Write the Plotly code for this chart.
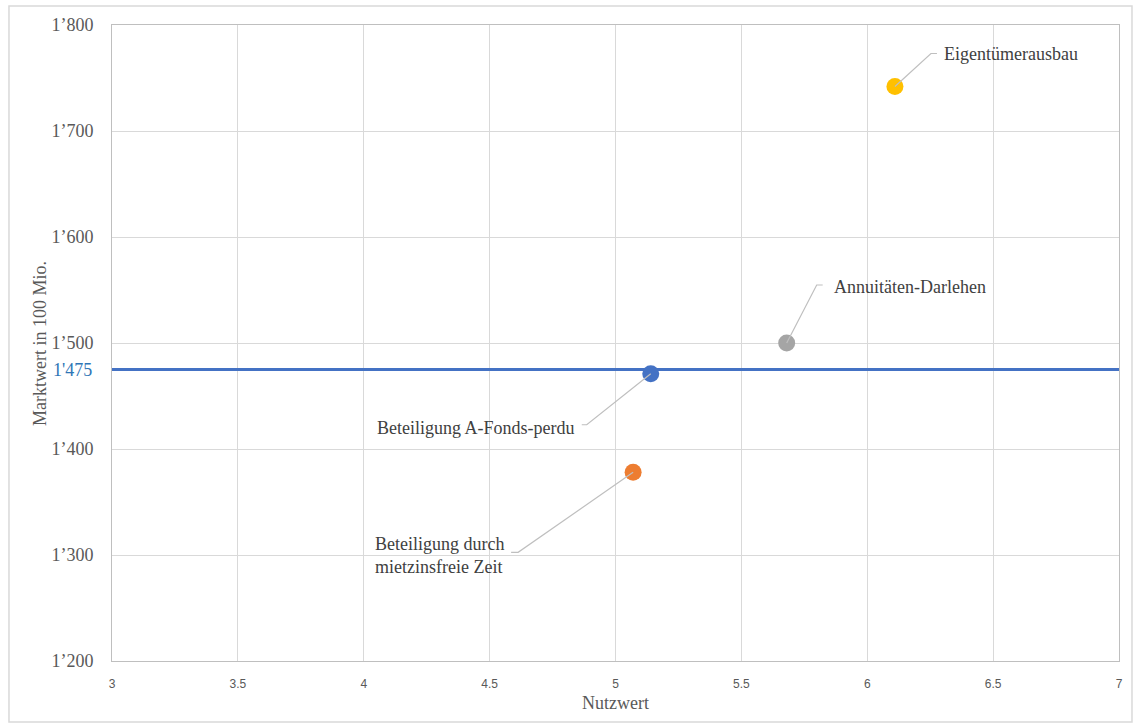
import plotly.graph_objects as go

# Variants: Nutzwert (x) vs. Marktwert in 100 Mio. (y)
names = ["Eigentümerausbau", "Annuitäten-Darlehen", "Beteiligung A-Fonds-perdu",
         "Beteiligung durch<br>mietzinsfreie Zeit"]
nutzwert = [6.11, 5.68, 5.14, 5.07]
marktwert = [1742, 1500, 1471, 1378]
colors = ["#FFC000", "#A5A5A5", "#4472C4", "#ED7D31"]

# Reference level
ref_value = 1475
ref_label = "1'475"

# Axes
x_range = [3, 7]
x_tick_vals = [3, 3.5, 4, 4.5, 5, 5.5, 6, 6.5, 7]
x_tick_text = ["3", "3.5", "4", "4.5", "5", "5.5", "6", "6.5", "7"]
y_range = [1200, 1800]
y_tick_vals = [1200, 1300, 1400, 1500, 1600, 1700, 1800]
y_tick_text = ["1’200", "1’300", "1’400", "1’500", "1’600", "1’700", "1’800"]

# Callout geometry (pixel offsets from each point): kink, end of leader, text anchor
callouts = [
    dict(path="M0,0 L36,33 L42,33", tx=47, ty=32, anchor="left"),
    dict(path="M0,0 L30,58 L36,58", tx=45, ty=56, anchor="left"),
    dict(path="M0,0 L-64,-51 L-69,-51", tx=-75, ty=-54, anchor="right"),
    dict(path="M0,0 L-115,-80 L-122,-80", tx=-127, ty=-83, anchor="right"),
]

SERIF = "Liberation Serif, Times New Roman, serif"
TEXT = "#595959"
LABEL = "#404040"

fig = go.Figure()

fig.add_trace(go.Scatter(
    x=x_range, y=[ref_value, ref_value], mode="lines",
    line=dict(color="#4472C4", width=3), hoverinfo="skip", showlegend=False,
))

for xv, yv, c, n in zip(nutzwert, marktwert, colors, names):
    fig.add_trace(go.Scatter(
        x=[xv], y=[yv], mode="markers", name=n.replace("<br>", " "),
        marker=dict(color=c, size=17, line=dict(width=0)), showlegend=False,
    ))

annotations = []
shapes = []
for xv, yv, n, co in zip(nutzwert, marktwert, names, callouts):
    shapes.append(dict(
        type="path", xref="x", yref="y", xsizemode="pixel", ysizemode="pixel",
        xanchor=xv, yanchor=yv, path=co["path"],
        line=dict(color="#BFBFBF", width=1.2), layer="above",
    ))
    annotations.append(dict(
        x=xv, y=yv, xref="x", yref="y", text=n, showarrow=False,
        xanchor=co["anchor"], yanchor="middle", align="left",
        xshift=co["tx"], yshift=co["ty"],
        font=dict(family=SERIF, size=18, color=LABEL),
    ))

# Reference label next to the axis
annotations.append(dict(
    x=0, y=ref_value, xref="paper", yref="y", text=ref_label, showarrow=False,
    xanchor="right", yanchor="middle", xshift=-18,
    font=dict(family=SERIF, size=18, color="#2E75B6"),
))

# Axis titles
annotations.append(dict(
    x=-0.0715, y=0.5, xref="paper", yref="paper", text="Marktwert in 100 Mio.",
    showarrow=False, textangle=-90, xanchor="center", yanchor="middle",
    font=dict(family=SERIF, size=18, color=TEXT),
))
annotations.append(dict(
    x=0.5, y=-0.066, xref="paper", yref="paper", text="Nutzwert",
    showarrow=False, xanchor="center", yanchor="middle",
    font=dict(family=SERIF, size=18, color=TEXT),
))

# Outer chart border
shapes.append(dict(
    type="rect", xref="paper", yref="paper",
    x0=-0.1023, x1=1.0129, y0=-0.0959, y1=1.0299,
    line=dict(color="#D9D9D9", width=1.5), fillcolor="rgba(0,0,0,0)", layer="below",
))

fig.update_layout(
    width=1134, height=725,
    margin=dict(l=112, r=15, t=25, b=64),
    paper_bgcolor="white", plot_bgcolor="white",
    showlegend=False,
    annotations=annotations, shapes=shapes,
    xaxis=dict(
        range=x_range, tickvals=x_tick_vals, ticktext=x_tick_text,
        showgrid=True, gridcolor="#D9D9D9", gridwidth=1,
        showline=True, linecolor="#BFBFBF", linewidth=1, mirror=True,
        zeroline=False, ticks="", ticklabelstandoff=12,
        tickfont=dict(family="Liberation Sans, Arial, sans-serif", size=12, color=TEXT),
    ),
    yaxis=dict(
        range=y_range, tickvals=y_tick_vals, ticktext=y_tick_text,
        showgrid=True, gridcolor="#D9D9D9", gridwidth=1,
        showline=True, linecolor="#BFBFBF", linewidth=1, mirror=True,
        zeroline=False, ticks="", ticklabelstandoff=14,
        tickfont=dict(family=SERIF, size=18, color=TEXT),
    ),
)

fig.write_html("out.html")
